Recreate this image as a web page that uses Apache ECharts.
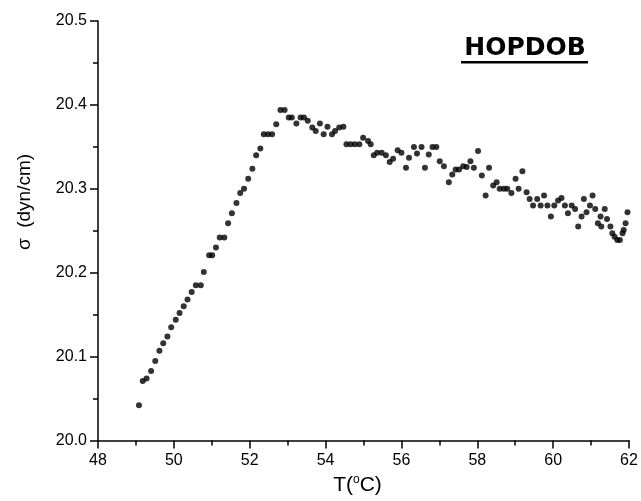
<!DOCTYPE html>
<html>
<head>
<meta charset="utf-8">
<script src="https://cdn.jsdelivr.net/npm/echarts@6/dist/echarts.min.js"></script>
<style>
html, body { margin: 0; padding: 0; background: #fff; }
#chart { width: 641px; height: 501px; }
</style>
</head>
<body>
<div id="chart"></div>
<script>
// T (°C) readings
var tempC = [
    49.08, 49.18, 49.28, 49.40, 49.51, 49.62, 49.72, 49.83, 49.93, 50.05,
    50.15, 50.26, 50.36, 50.47, 50.58, 50.71, 50.79, 50.93, 51.01, 51.11,
    51.21, 51.33, 51.43, 51.53, 51.65, 51.75, 51.85, 51.96, 52.07, 52.17,
    52.28, 52.37, 52.48, 52.59, 52.70, 52.81, 52.92, 53.03, 53.11, 53.23,
    53.34, 53.43, 53.53, 53.65, 53.74, 53.85, 53.95, 54.05, 54.17, 54.25,
    54.36, 54.47, 54.55, 54.66, 54.77, 54.89, 54.99, 55.12, 55.19, 55.27,
    55.36, 55.48, 55.59, 55.69, 55.78, 55.90, 56.00, 56.12, 56.20, 56.33,
    56.41, 56.53, 56.62, 56.72, 56.82, 56.92, 57.01, 57.12, 57.25, 57.34,
    57.43, 57.52, 57.63, 57.72, 57.82, 57.91, 58.02, 58.12, 58.22, 58.31,
    58.42, 58.51, 58.59, 58.70, 58.79, 58.90, 59.01, 59.09, 59.19, 59.30,
    59.38, 59.47, 59.58, 59.67, 59.76, 59.85, 59.94, 60.03, 60.13, 60.22,
    60.31, 60.39, 60.49, 60.58, 60.66, 60.75, 60.81, 60.88, 60.97, 61.04,
    61.11, 61.18, 61.25, 61.27, 61.36, 61.42, 61.51, 61.56, 61.62, 61.69,
    61.76, 61.83, 61.86, 61.91, 61.96
];
// surface tension sigma (dyn/cm)
var sigma = [
    20.042, 20.071, 20.074, 20.083, 20.095, 20.107, 20.116, 20.124, 20.135, 20.144,
    20.152, 20.160, 20.168, 20.177, 20.185, 20.185, 20.201, 20.221, 20.221, 20.230,
    20.242, 20.242, 20.259, 20.271, 20.283, 20.295, 20.300, 20.312, 20.324, 20.340,
    20.348, 20.365, 20.365, 20.365, 20.377, 20.394, 20.394, 20.385, 20.385, 20.378,
    20.385, 20.385, 20.381, 20.373, 20.369, 20.378, 20.365, 20.374, 20.365, 20.369,
    20.373, 20.374, 20.353, 20.353, 20.353, 20.353, 20.361, 20.357, 20.353, 20.340,
    20.343, 20.343, 20.340, 20.332, 20.336, 20.346, 20.343, 20.325, 20.337, 20.350,
    20.342, 20.350, 20.325, 20.341, 20.350, 20.350, 20.333, 20.327, 20.308, 20.317,
    20.323, 20.323, 20.327, 20.326, 20.333, 20.325, 20.345, 20.316, 20.292, 20.325,
    20.304, 20.308, 20.300, 20.300, 20.300, 20.295, 20.312, 20.300, 20.321, 20.296,
    20.288, 20.280, 20.288, 20.280, 20.292, 20.280, 20.267, 20.280, 20.286, 20.289,
    20.280, 20.271, 20.280, 20.276, 20.255, 20.267, 20.288, 20.272, 20.280, 20.292,
    20.276, 20.259, 20.267, 20.255, 20.276, 20.264, 20.255, 20.247, 20.243, 20.239,
    20.239, 20.247, 20.251, 20.259, 20.272
];
var xTicks = [48, 50, 52, 54, 56, 58, 60, 62];
var yTicks = ['20.0', '20.1', '20.2', '20.3', '20.4', '20.5'];

var myChart = echarts.init(document.getElementById('chart'));
var points = tempC.map(function (t, i) { return [t, sigma[i]]; });
var font = 'Liberation Sans, Arial, sans-serif';

var option = {
    animation: false,
    backgroundColor: '#fff',
    grid: { left: 98, right: 12, top: 21, bottom: 55 },
    xAxis: {
        type: 'value',
        min: xTicks[0],
        max: xTicks[xTicks.length - 1],
        interval: 2,
        name: 'T({sup|o}C)',
        nameLocation: 'middle',
        nameGap: 32,
        nameTextStyle: {
            color: '#000', fontFamily: font, fontSize: 21, padding: [0, 12, 0, 0],
            rich: { sup: { fontSize: 12, verticalAlign: 'top', padding: [0, 0, 12, 0], color: '#000', fontFamily: font } }
        },
        axisLine: { lineStyle: { color: '#000', width: 1.5 } },
        axisTick: { length: 8, lineStyle: { color: '#000', width: 1.5 } },
        minorTick: { show: true, splitNumber: 2, length: 5, lineStyle: { color: '#000', width: 1.5 } },
        axisLabel: { color: '#000', fontFamily: font, fontSize: 16, margin: 12 },
        splitLine: { show: false }
    },
    yAxis: {
        type: 'value',
        min: 20.0,
        max: 20.5,
        interval: 0.1,
        axisLine: { show: true, lineStyle: { color: '#000', width: 1.5 } },
        axisTick: { show: true, length: 8, lineStyle: { color: '#000', width: 1.5 } },
        minorTick: { show: true, splitNumber: 2, length: 5, lineStyle: { color: '#000', width: 1.5 } },
        axisLabel: {
            color: '#000', fontFamily: font, fontSize: 16, margin: 11,
            formatter: function (v) {
                var s = v.toFixed(1);
                return yTicks.indexOf(s) >= 0 ? s : '';
            }
        },
        splitLine: { show: false }
    },
    graphic: [
        {
            type: 'text', x: 25, y: 202, rotation: Math.PI / 2,
            style: { text: 'σ  (dyn/cm)', fill: '#000', font: '19px ' + font, align: 'center', verticalAlign: 'middle' }
        },
        {
            type: 'text', x: 525, y: 48,
            style: { text: 'HOPDOB', fill: '#000', font: 'bold 25px DejaVu Sans, sans-serif', align: 'center', verticalAlign: 'middle' }
        },
        {
            type: 'rect', shape: { x: 461, y: 61, width: 127, height: 2.5 },
            style: { fill: '#000' }
        }
    ],
    series: [{
        type: 'scatter',
        data: points,
        symbol: 'circle',
        symbolSize: 6,
        itemStyle: { color: '#000' }
    }]
};
myChart.setOption(option);
</script>
</body>
</html>
